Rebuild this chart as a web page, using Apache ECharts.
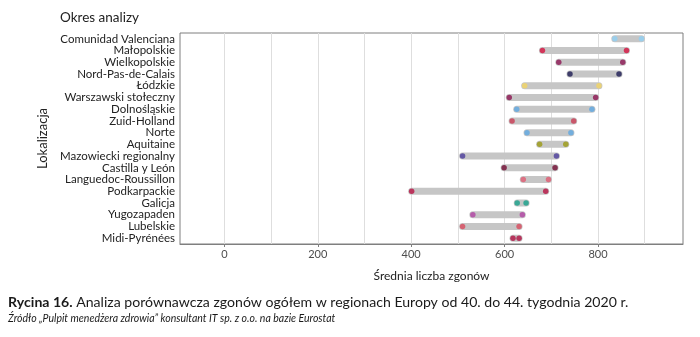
<!DOCTYPE html>
<html>
<head>
<meta charset="utf-8">
<script src="https://cdn.jsdelivr.net/npm/echarts@6/dist/echarts.min.js"></script>
<style>html,body{margin:0;padding:0;background:#fff}#c{width:700px;height:337px}</style>
</head>
<body>
<div id="c"></div>
<script>
const regions = ["Comunidad Valenciana","Małopolskie","Wielkopolskie","Nord-Pas-de-Calais","Łódzkie","Warszawski stołeczny","Dolnośląskie","Zuid-Holland","Norte","Aquitaine","Mazowiecki regionalny","Castilla y León","Languedoc-Roussillon","Podkarpackie","Galicja","Yugozapaden","Lubelskie","Midi-Pyrénées"];
const minVals = [836,681,716,740,643,610,626,616,648,675,510,599,640,401,627,532,510,618];
const maxVals = [893,861,853,845,802,795,787,748,742,731,711,708,694,688,646,638,631,631];
const xTicks = [0,200,400,600,800];
const xGrid = [0,100,200,300,400,500,600,700,800,900];
const regionColors = ["#8fd0f4","#d4123f","#8c1552","#1b1a52","#f3d462","#8c1450","#5ea8e2","#c93b52","#5ea8e2","#9b9a12","#4b3c9b","#720b32","#e05b72","#b81142","#17a08a","#b042a2","#d84a5c","#b11142"];

const chart = echarts.init(document.getElementById('c'), null, {renderer:'canvas'});
const F = 'Lato';
const rows = regions.map((r,i)=>[minVals[i], maxVals[i], i]);
const dotsData = [];
regions.forEach((r,i)=>{
  dotsData.push({value:[minVals[i], r], itemStyle:{color:regionColors[i]}});
  dotsData.push({value:[maxVals[i], r], itemStyle:{color:regionColors[i]}});
});
chart.setOption({
  animation:false,
  textStyle:{fontFamily:F},
  grid:{left:180, right:17, top:33, bottom:93, show:true, borderColor:'#7f7f7f', borderWidth:1, backgroundColor:'transparent'},
  xAxis:[{
    type:'value', min:-95, max:982,
    name:'Średnia liczba zgonów', nameLocation:'middle', nameGap:26,
    nameTextStyle:{fontFamily:F, fontSize:12, color:'#222'},
    axisLine:{show:true, lineStyle:{color:'#7f7f7f', width:1}},
    axisTick:{show:true, customValues:xTicks, length:3, lineStyle:{color:'#7f7f7f'}},
    axisLabel:{customValues:xTicks, fontFamily:F, fontSize:11, color:'#4d4d4d', margin:5},
    splitLine:{show:false}
  },{
    type:'value', min:-95, max:982, position:'bottom',
    axisLine:{show:false}, axisLabel:{show:false},
    axisTick:{show:false, customValues:xGrid},
    splitLine:{show:true, lineStyle:{color:'#dedede', width:1}}
  }],
  yAxis:{
    type:'category', data:regions, inverse:true,
    name:'Lokalizacja', nameLocation:'middle', nameGap:127, nameRotate:90,
    nameTextStyle:{fontFamily:F, fontSize:13, color:'#222'},
    axisLine:{show:false}, axisTick:{show:false},
    axisLabel:{interval:0, fontFamily:F, fontSize:11.5, color:'#222', margin:5},
    splitLine:{show:false}
  },
  series:[{
    type:'custom', xAxisIndex:0, silent:true,
    data:rows,
    encode:{x:[0,1], y:2},
    renderItem:function(params, api){
      const a = api.coord([api.value(0), api.value(2)]);
      const b = api.coord([api.value(1), api.value(2)]);
      return {type:'line', shape:{x1:a[0], y1:a[1], x2:b[0], y2:b[1]},
        style:{stroke:'#c6c6c6', lineWidth:7, lineCap:'round'}};
    }
  },{
    type:'scatter', xAxisIndex:0, symbol:'circle', symbolSize:5.5, silent:true,
    data:dotsData, z:5
  }],
  graphic:[
    {type:'text', left:60, top:11, style:{text:'Okres analizy', fontFamily:F, fontSize:13.5, fill:'#222'}},
    {type:'text', left:8, top:295, style:{
      text:'{b|Rycina 16.} Analiza porównawcza zgonów ogółem w regionach Europy od 40. do 44. tygodnia 2020 r.',
      fontFamily:F, fontSize:14.1, fill:'#1a1a1a',
      rich:{b:{fontFamily:F, fontSize:14.1, fontWeight:'bold', fill:'#1a1a1a'}}
    }},
    {type:'text', left:8, top:313, style:{text:'Źródło „Pulpit menedżera zdrowia” konsultant IT sp. z o.o. na bazie Eurostat', fontFamily:F, fontSize:10.5, fontStyle:'italic', fill:'#1a1a1a'}}
  ]
});
</script>
</body>
</html>
